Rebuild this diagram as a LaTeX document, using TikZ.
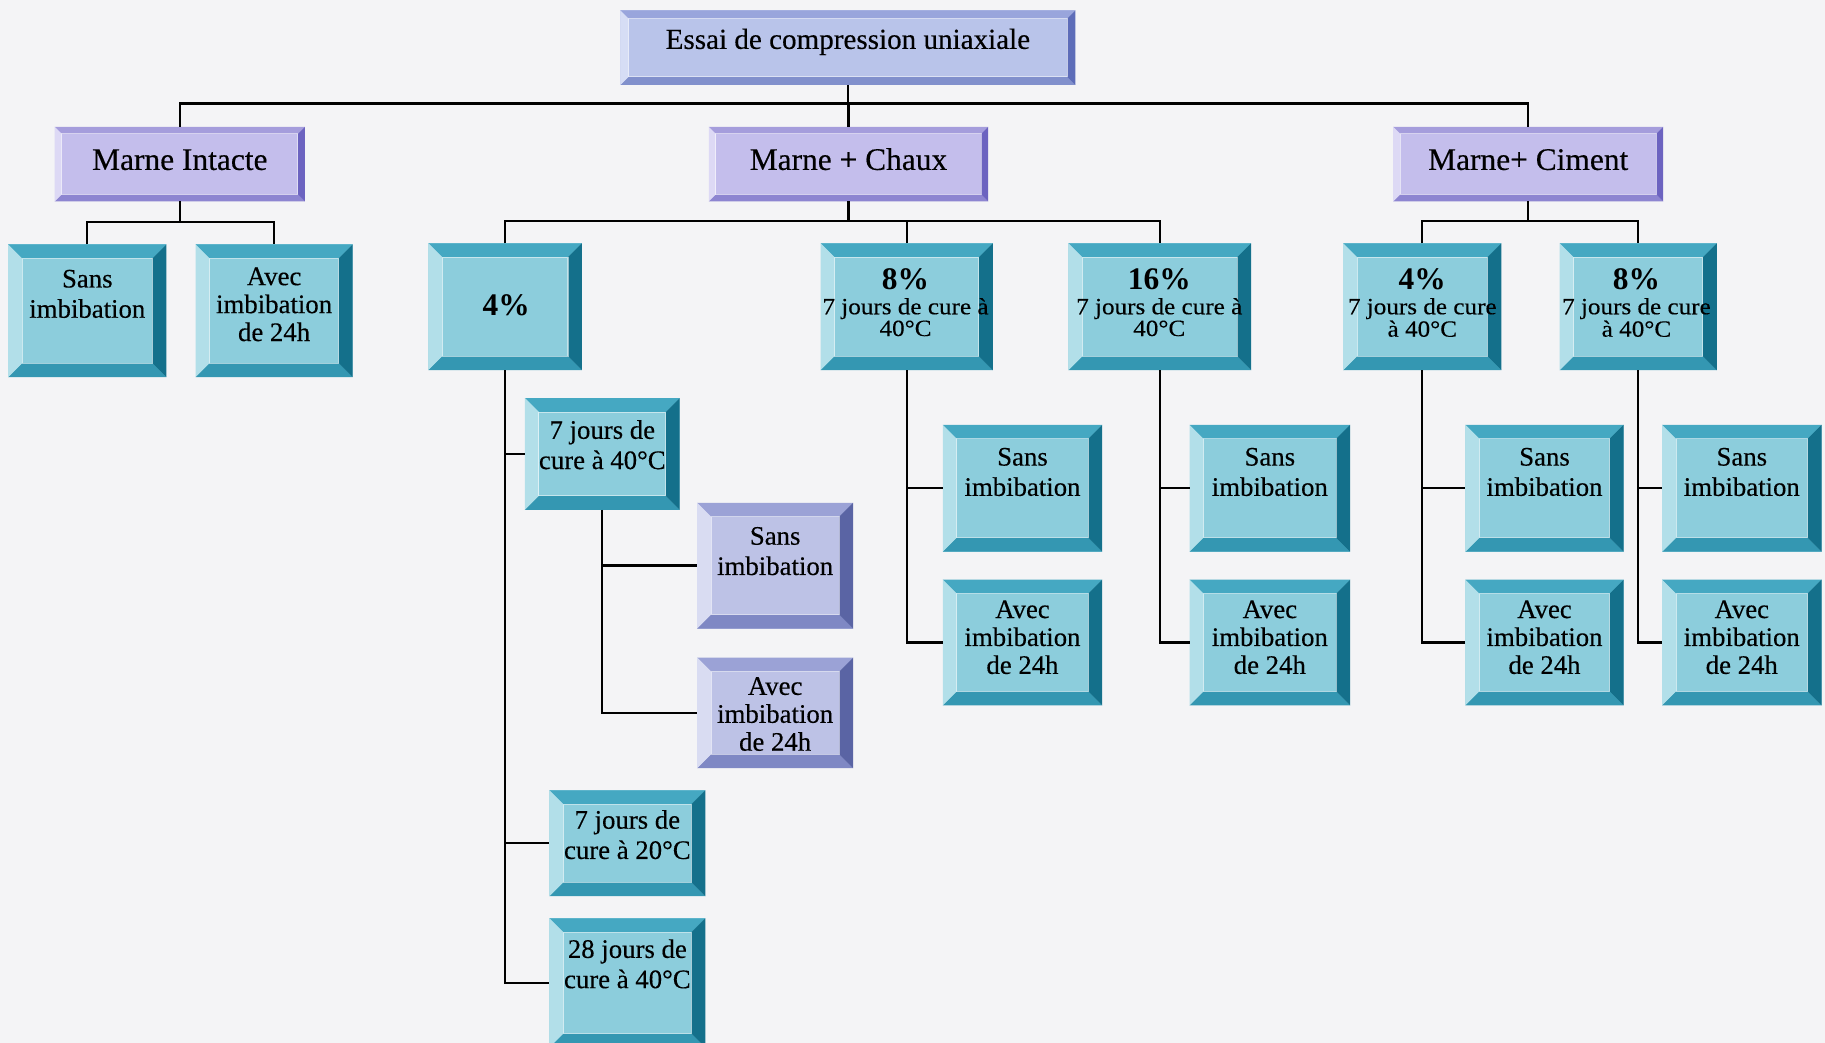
\documentclass[tikz,border=0pt]{standalone}
\usepackage{fontspec}
\setmainfont{Liberation Serif}[UprightFeatures={FakeBold=0.35}]
\newfontfamily\smallserif{Liberation Serif}[FakeStretch=1.08, FakeBold=0.3]

% paper
\definecolor{paper}{HTML}{F4F4F6}
% teal bevel boxes
\definecolor{tealF}{HTML}{8CCDDC}
\definecolor{tealT}{HTML}{45A8C2}
\definecolor{tealL}{HTML}{B2DFE9}
\definecolor{tealR}{HTML}{14708B}
\definecolor{tealB}{HTML}{3497B2}
% lilac header boxes
\definecolor{lilacF}{HTML}{C4BEEC}
\definecolor{lilacT}{HTML}{A59DDC}
\definecolor{lilacL}{HTML}{DDD9F5}
\definecolor{lilacR}{HTML}{6C63C0}
\definecolor{lilacB}{HTML}{8D85D1}
% title box
\definecolor{titleF}{HTML}{B9C4EA}
\definecolor{titleT}{HTML}{99A5DC}
\definecolor{titleL}{HTML}{D6DDF5}
\definecolor{titleR}{HTML}{5D6CB8}
\definecolor{titleB}{HTML}{8190CC}
% slate boxes
\definecolor{slateF}{HTML}{BDC2E6}
\definecolor{slateT}{HTML}{9BA2D6}
\definecolor{slateL}{HTML}{D9DCF2}
\definecolor{slateR}{HTML}{5A64A4}
\definecolor{slateB}{HTML}{7F88C4}

\newcommand\lines[1]{\begin{tabular}[t]{@{}c@{}}#1\end{tabular}}

\tikzset{
  pal/.code={\def\bxpal{#1}},
  bev/.code={\def\bxbev{#1}},
  bevelbox/.style={rectangle, inner sep=0pt, outer sep=0pt,
    path picture={
      \fill[\bxpal F] (path picture bounding box.south west) rectangle (path picture bounding box.north east);
      \fill[\bxpal T] (path picture bounding box.north west) -- (path picture bounding box.north east)
        -- ([xshift=-\bxbev,yshift=-\bxbev]path picture bounding box.north east)
        -- ([xshift=\bxbev,yshift=-\bxbev]path picture bounding box.north west) -- cycle;
      \fill[\bxpal B] (path picture bounding box.south west) -- (path picture bounding box.south east)
        -- ([xshift=-\bxbev,yshift=\bxbev]path picture bounding box.south east)
        -- ([xshift=\bxbev,yshift=\bxbev]path picture bounding box.south west) -- cycle;
      \fill[\bxpal L] (path picture bounding box.south west) -- (path picture bounding box.north west)
        -- ([xshift=\bxbev,yshift=-\bxbev]path picture bounding box.north west)
        -- ([xshift=\bxbev,yshift=\bxbev]path picture bounding box.south west) -- cycle;
      \fill[\bxpal R] (path picture bounding box.south east) -- (path picture bounding box.north east)
        -- ([xshift=-\bxbev,yshift=-\bxbev]path picture bounding box.north east)
        -- ([xshift=-\bxbev,yshift=\bxbev]path picture bounding box.south east) -- cycle;
      \draw[white, opacity=0.55, line width=0.9pt]
        ([xshift=\bxbev,yshift=\bxbev]path picture bounding box.south west)
        rectangle ([xshift=-\bxbev,yshift=-\bxbev]path picture bounding box.north east);
    }},
  tealbox/.style={bevelbox, pal=teal, bev=12pt},
  slatebox/.style={bevelbox, pal=slate, bev=12pt},
  lilacbox/.style={bevelbox, pal=lilac, bev=6pt},
  titlebox/.style={bevelbox, pal=title, bev=7pt},
  txt/.style={anchor=base, inner sep=0pt, font=\fontsize{23}{26}\selectfont},
  txtc/.style={anchor=base, inner sep=0pt, font=\fontsize{23}{24}\selectfont},
  hdrtxt/.style={anchor=base, inner sep=0pt, font=\fontsize{27}{30}\selectfont},
  ttltxt/.style={anchor=base, inner sep=0pt, font=\fontsize{25}{28}\selectfont},
  pct/.style={anchor=base, inner sep=0pt, font=\fontsize{27}{30}\selectfont\bfseries},
  smalltxt/.style={anchor=base, inner sep=0pt, font=\smallserif\fontsize{20}{18}\selectfont},
  conn/.style={draw=black, line width=2pt},
}

\begin{document}
\begin{tikzpicture}[x=1pt, y=-1pt]
\useasboundingbox (0,0) rectangle (1568,896);
\clip (0,0) rectangle (1568,896);
\fill[paper] (0,0) rectangle (1568,896);

% bus levels
\coordinate (bus1) at (0,89);
\coordinate (bus2) at (0,191);
\coordinate (bus3) at (0,190);

% title and main families
\node[titlebox, minimum width=391, minimum height=64] (root) at (728.5,41) {};
\node[lilacbox, minimum width=215, minimum height=64] (mi) at (154.5,141) {};
\node[lilacbox, minimum width=240, minimum height=64] (mc) at (729,141) {};
\node[lilacbox, minimum width=232, minimum height=64] (mcim) at (1313,141) {};

% Marne intacte
\node[tealbox, minimum width=136, minimum height=114] (isans) at (75,267) {};
\node[tealbox, minimum width=135, minimum height=114] (iavec) at (235.5,267) {};

% Marne + chaux
\node[tealbox, minimum width=132, minimum height=109] (c4) at (434,263.5) {};
\node[tealbox, minimum width=148, minimum height=109] (c8) at (779,263.5) {};
\node[tealbox, minimum width=157, minimum height=109] (c16) at (996.5,263.5) {};

% Marne + ciment
\node[tealbox, minimum width=136, minimum height=109] (m4) at (1222,263.5) {};
\node[tealbox, minimum width=135, minimum height=109] (m8) at (1407.5,263.5) {};

% curing of the 4% lime mix
\node[tealbox, minimum width=133, minimum height=96] (s40) at (517.5,390) {};
\node[slatebox, minimum width=134, minimum height=108] (ps) at (666,486) {};
\node[slatebox, minimum width=134, minimum height=95] (pa) at (666,612.5) {};
\node[tealbox, minimum width=134, minimum height=91] (s20) at (539,724.5) {};
\node[tealbox, minimum width=134, minimum height=111] (d28) at (539,844.5) {};

% imbibation tests
\node[tealbox, minimum width=137, minimum height=109] (c8s) at (878.5,419.5) {};
\node[tealbox, minimum width=137, minimum height=108] (c8a) at (878.5,552) {};
\node[tealbox, minimum width=138, minimum height=109] (c16s) at (1091,419.5) {};
\node[tealbox, minimum width=138, minimum height=108] (c16a) at (1091,552) {};
\node[tealbox, minimum width=136, minimum height=109] (m4s) at (1327,419.5) {};
\node[tealbox, minimum width=136, minimum height=108] (m4a) at (1327,552) {};
\node[tealbox, minimum width=137, minimum height=109] (m8s) at (1496.5,419.5) {};
\node[tealbox, minimum width=137, minimum height=108] (m8a) at (1496.5,552) {};

% texts
\node[ttltxt] (root-t) at (728.5,42) {Essai de compression uniaxiale};
\node[hdrtxt] (mi-t) at (154.5,146) {Marne Intacte};
\node[hdrtxt] (mc-t) at (729,146) {Marne + Chaux};
\node[hdrtxt] (mcim-t) at (1313,146) {Marne+ Ciment};

\node[txt] (isans-t) at (75,247) {\lines{Sans\\imbibation}};
\node[txtc] (iavec-t) at (235.5,245) {\lines{Avec\\imbibation\\de 24h}};

\node[pct] (c4-t) at (435,271) {4\%};
\node[pct] (c8-t) at (778,249) {8\%};
\node[smalltxt] (c8-s) at (778,270) {\lines{7 jours de cure à\\40°C}};
\node[pct] (c16-t) at (996,249) {16\%};
\node[smalltxt] (c16-s) at (996,270) {\lines{7 jours de cure à\\40°C}};
\node[pct] (m4-t) at (1222,249) {4\%};
\node[smalltxt] (m4-s) at (1222,270) {\lines{7 jours de cure\\à 40°C}};
\node[pct] (m8-t) at (1406,249) {8\%};
\node[smalltxt] (m8-s) at (1406,270) {\lines{7 jours de cure\\à 40°C}};

\node[txt] (s40-t) at (517.5,377) {\lines{7 jours de\\cure à 40°C}};
\node[txt] (ps-t) at (666,468) {\lines{Sans\\imbibation}};
\node[txtc] (pa-t) at (666,597) {\lines{Avec\\imbibation\\de 24h}};
\node[txt] (s20-t) at (539,712) {\lines{7 jours de\\cure à 20°C}};
\node[txt] (d28-t) at (539,823) {\lines{28 jours de\\cure à 40°C}};

\node[txt] (c8s-t) at (878.5,400) {\lines{Sans\\imbibation}};
\node[txtc] (c8a-t) at (878.5,531) {\lines{Avec\\imbibation\\de 24h}};
\node[txt] (c16s-t) at (1091,400) {\lines{Sans\\imbibation}};
\node[txtc] (c16a-t) at (1091,531) {\lines{Avec\\imbibation\\de 24h}};
\node[txt] (m4s-t) at (1327,400) {\lines{Sans\\imbibation}};
\node[txtc] (m4a-t) at (1327,531) {\lines{Avec\\imbibation\\de 24h}};
\node[txt] (m8s-t) at (1496.5,400) {\lines{Sans\\imbibation}};
\node[txtc] (m8a-t) at (1496.5,531) {\lines{Avec\\imbibation\\de 24h}};

% connectors: first level
\draw[conn] (root.south) -- (root.south |- bus1);
\draw[conn] (mi.north) -- (mi.north |- bus1) -- (mcim.north |- bus1) -- (mcim.north);
\draw[conn] (mc.north) -- (mc.north |- bus1);

% Marne intacte
\draw[conn] (mi.south) -- (mi.south |- bus2);
\draw[conn] (isans.north) -- (isans.north |- bus2) -- (iavec.north |- bus2) -- (iavec.north);

% Marne + chaux
\draw[conn] (mc.south) -- (mc.south |- bus3);
\draw[conn] (c4.north) -- (c4.north |- bus3) -- (c16.north |- bus3) -- (c16.north);
\draw[conn] (c8.north) -- (c8.north |- bus3);

% Marne + ciment
\draw[conn] (mcim.south) -- (mcim.south |- bus3);
\draw[conn] (m4.north) -- (m4.north |- bus3) -- (m8.north |- bus3) -- (m8.north);

% 4% lime: curing branches
\draw[conn] (c4.south) -- (c4.south |- d28.west) -- (d28.west);
\draw[conn] (c4.south |- s40.west) -- (s40.west);
\draw[conn] (c4.south |- s20.west) -- (s20.west);
\draw[conn] (s40.south) -- (s40.south |- pa.west) -- (pa.west);
\draw[conn] (s40.south |- ps.west) -- (ps.west);

% imbibation branches
\draw[conn] (c8.south) -- (c8.south |- c8a.west) -- (c8a.west);
\draw[conn] (c8.south |- c8s.west) -- (c8s.west);
\draw[conn] (c16.south) -- (c16.south |- c16a.west) -- (c16a.west);
\draw[conn] (c16.south |- c16s.west) -- (c16s.west);
\draw[conn] (m4.south) -- (m4.south |- m4a.west) -- (m4a.west);
\draw[conn] (m4.south |- m4s.west) -- (m4s.west);
\draw[conn] (m8.south) -- (m8.south |- m8a.west) -- (m8a.west);
\draw[conn] (m8.south |- m8s.west) -- (m8s.west);
\end{tikzpicture}
\end{document}
